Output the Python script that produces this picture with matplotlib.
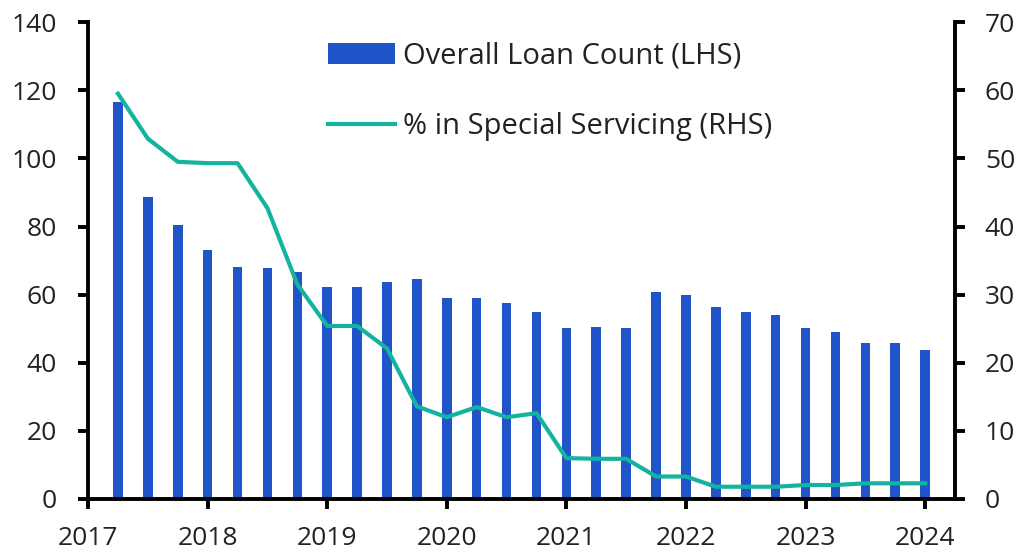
import numpy as np
import matplotlib
matplotlib.use("Agg")
import matplotlib.pyplot as plt

plt.rcParams["font.family"] = ["Open Sans", "DejaVu Sans"]

# quarterly dates, 2017 Q2 .. 2024 Q1
dates = np.arange(2017.25, 2024.01, 0.25)
loan_count = [116.6, 88.7, 80.4, 73.1, 68.2, 67.7, 66.7, 62.3, 62.3, 63.8,
              64.7, 58.9, 58.9, 57.4, 55.0, 50.1, 50.6, 50.1, 60.8, 59.9,
              56.5, 55.0, 54.0, 50.1, 49.1, 45.7, 45.7, 43.7]
special_pct = [59.5, 52.9, 49.5, 49.3, 49.3, 42.7, 31.5, 25.4, 25.4, 22.1,
               13.6, 12.0, 13.5, 12.0, 12.6, 6.0, 5.9, 5.9, 3.3, 3.3,
               1.8, 1.8, 1.8, 2.05, 2.05, 2.3, 2.3, 2.3]
years = list(range(2017, 2025))

BLUE = "#1f55c8"
TEAL = "#14b3a0"

fig = plt.figure(figsize=(10.24, 5.54), dpi=100)
ax = fig.add_axes([0.086, 0.0993, 0.8466, 0.8607])
ax2 = ax.twinx()

bars = ax.bar(dates, loan_count, width=0.08, color=BLUE, label="Overall Loan Count (LHS)")
line, = ax2.plot(dates, special_pct, color=TEAL, lw=3, label="% in Special Servicing (RHS)")

ax.set_xlim(2017.0, 2024.25)
ax.set_ylim(0, 140)
ax2.set_ylim(0, 70)
ax.set_yticks(range(0, 141, 20))
ax2.set_yticks(range(0, 71, 10))
ax.set_xticks(years)

for a in (ax, ax2):
    a.spines["top"].set_visible(False)
    for s in a.spines.values():
        s.set_linewidth(2.8)
    a.tick_params(axis="both", direction="out", length=7.5, width=2.8,
                  labelsize=19, colors="black", labelcolor="#222222")
ax.spines["right"].set_visible(False)
ax2.spines["left"].set_visible(False)
ax2.spines["bottom"].set_visible(False)
ax.tick_params(axis="y", pad=15)
ax2.tick_params(axis="y", pad=14)
ax.tick_params(axis="x", pad=12)

leg = ax.legend([bars, line], [bars.get_label(), line.get_label()],
                loc="upper left", bbox_to_anchor=(0.246, 1.014), frameon=False,
                fontsize=21, handlelength=2.3, labelspacing=1.42,
                handletextpad=0.3)
for t in leg.get_texts():
    t.set_color("#222222")

fig.savefig("out.png", dpi=100)
